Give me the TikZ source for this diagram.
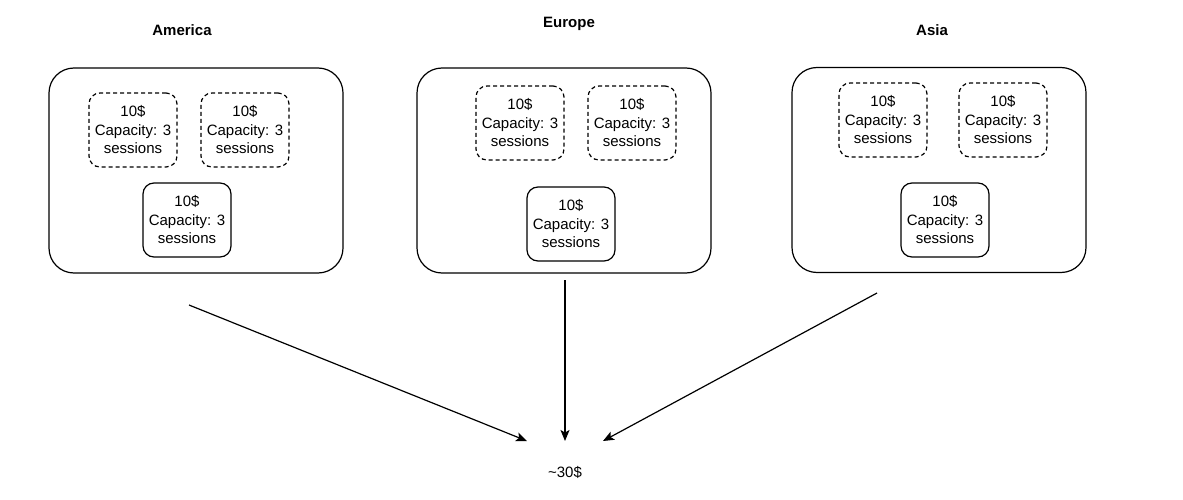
\documentclass[tikz,border=0pt]{standalone}
\usepackage{fontspec}
\setmainfont{Liberation Sans}
\usetikzlibrary{arrows.meta}
\begin{document}
\begin{tikzpicture}[x=1pt,y=-1pt,
  region/.style={draw,line width=1.2pt,rounded corners=25pt,minimum width=294pt,minimum height=205pt,inner sep=0pt,outer sep=0pt},
  server/.style={draw,line width=1.2pt,rounded corners=11pt,minimum width=88pt,minimum height=74pt,inner sep=0pt,outer sep=0pt,align=center,font=\fontsize{15}{18.5}\selectfont},
  standby/.style={server,dash pattern=on 4pt off 3pt},
  title/.style={font=\fontsize{15}{18}\selectfont\bfseries},
  flow/.style={line width=1.2pt,-{Stealth[length=11pt,width=9pt,inset=2.5pt]}}]
\useasboundingbox (0,0) rectangle (1183,500);
\fill[white] (0,0) rectangle (1183,500);
% titles
\node[title] (tAm) at (182,30) {America};
\node[title] (tEu) at (569,24) {Europe};
\node[title] (tAs) at (932,30) {Asia};
% regions
\node[region] (am) at (196,170.5) {};
\node[region] (eu) at (564,170.5) {};
\node[region] (as) at (939,170) {};
% America servers
\node[standby] (am1) at (133,130) {10\$\\Capacity: 3\\sessions};
\node[standby] (am2) at (245,130) {10\$\\Capacity: 3\\sessions};
\node[server] (am3) at (187,220) {10\$\\Capacity: 3\\sessions};
% Europe servers
\node[standby] (eu1) at (520,123) {10\$\\Capacity: 3\\sessions};
\node[standby] (eu2) at (632,123) {10\$\\Capacity: 3\\sessions};
\node[server] (eu3) at (571,224) {10\$\\Capacity: 3\\sessions};
% Asia servers
\node[standby] (as1) at (883,120) {10\$\\Capacity: 3\\sessions};
\node[standby] (as2) at (1003,120) {10\$\\Capacity: 3\\sessions};
\node[server] (as3) at (945,220) {10\$\\Capacity: 3\\sessions};
% total
\node[font=\fontsize{15}{18}\selectfont] (total) at (565,472) {\textasciitilde 30\$};
% arrows
\coordinate (amS) at (189,305);
\coordinate (amE) at (527,441);
\coordinate (euS) at (565,280);
\coordinate (euE) at (565,441);
\coordinate (asS) at (877,293);
\coordinate (asE) at (603,441);
\draw[flow] (amS) -- (amE);
\draw[flow] (euS) -- (euE);
\draw[flow] (asS) -- (asE);
\end{tikzpicture}
\end{document}
